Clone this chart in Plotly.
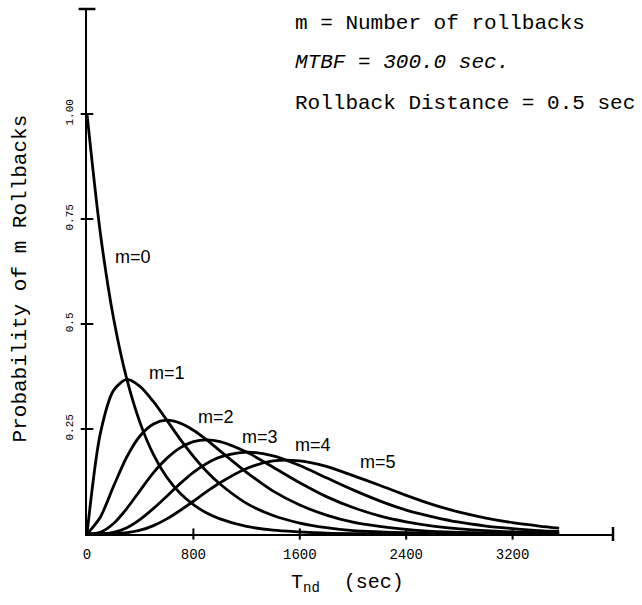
import plotly.graph_objects as go

# ---- data ----
T_SEC = [0, 100, 200, 300, 400, 500, 600, 700, 800, 900, 1000, 1200, 1400, 1600,
         1800, 2000, 2200, 2400, 2600, 2800, 3000, 3200, 3400, 3550]
P_M0 = [1.0, .717, .513, .368, .264, .189, .135, .097, .070, .050, .036, .018, .009, .005,
        .002, .001, .001, 0, 0, 0, 0, 0, 0, 0]
P_M1 = [0, .239, .342, .368, .351, .315, .271, .226, .185, .149, .119, .073, .044, .026,
        .015, .008, .005, .003, .002, .001, 0, 0, 0, 0]
P_M2 = [0, .040, .114, .184, .234, .262, .271, .264, .247, .224, .198, .147, .102, .069,
        .045, .028, .018, .011, .006, .004, .002, .001, .001, 0]
P_M3 = [0, .004, .025, .061, .104, .146, .180, .205, .220, .224, .220, .195, .159, .122,
        .089, .063, .043, .029, .019, .012, .008, .005, .003, .002]
P_M4 = [0, 0, .004, .015, .035, .061, .090, .120, .147, .168, .183, .195, .186, .163,
        .134, .105, .079, .057, .041, .028, .019, .013, .008, .006]
P_M5 = [0, 0, .001, .003, .009, .020, .036, .056, .078, .101, .122, .156, .174, .174,
        .161, .139, .116, .092, .070, .052, .038, .027, .019, .014]
SERIES = [P_M0, P_M1, P_M2, P_M3, P_M4, P_M5]

CURVE_LABELS = ["m=0", "m=1", "m=2", "m=3", "m=4", "m=5"]
LABEL_X = [346, 601, 970, 1300, 1700, 2190]
LABEL_Y = [0.66, 0.383, 0.279, 0.231, 0.212, 0.171]

X_TICKS = [0, 800, 1600, 2400, 3200]
X_TICK_TEXT = ["0", "800", "1600", "2400", "3200"]
Y_TICKS = [0.25, 0.5, 0.75, 1.0]
Y_TICK_TEXT = ["0.25", "0.5", "0.75", "1.00"]
X_END = 3955
Y_END = 1.25

NOTE_LINES = ["m = Number of rollbacks", "<i>MTBF = 300.0 sec.</i>",
              "Rollback Distance = 0.5 sec"]

MONO = "Liberation Mono"

fig = go.Figure()
for ys in SERIES:
    fig.add_trace(go.Scatter(x=T_SEC, y=ys, mode="lines",
                             line=dict(color="black", width=2.8, shape="spline", smoothing=0.8),
                             showlegend=False, hoverinfo="skip"))

# tick marks crossing the axes
fig.add_trace(go.Scatter(x=[0] * len(Y_TICKS), y=Y_TICKS, mode="markers",
                         marker=dict(symbol="line-ew", size=9, line=dict(color="black", width=2)),
                         showlegend=False, cliponaxis=False, hoverinfo="skip"))
fig.add_trace(go.Scatter(x=[0], y=[Y_END], mode="markers",
                         marker=dict(symbol="line-ew", size=12, line=dict(color="black", width=2.5)),
                         showlegend=False, cliponaxis=False, hoverinfo="skip"))
fig.add_trace(go.Scatter(x=X_TICKS[1:], y=[0] * (len(X_TICKS) - 1), mode="markers",
                         marker=dict(symbol="line-ns", size=8, line=dict(color="black", width=2)),
                         showlegend=False, cliponaxis=False, hoverinfo="skip"))
fig.add_trace(go.Scatter(x=[X_END], y=[0], mode="markers",
                         marker=dict(symbol="line-ns", size=10, line=dict(color="black", width=2.5)),
                         showlegend=False, cliponaxis=False, hoverinfo="skip"))

for txt, lx, ly in zip(CURVE_LABELS, LABEL_X, LABEL_Y):
    fig.add_annotation(x=lx, y=ly, text=txt, showarrow=False,
                       font=dict(family="Liberation Sans", size=18, color="black"))

for i, line in enumerate(NOTE_LINES):
    fig.add_annotation(xref="paper", yref="paper", x=0.392, y=[0.973, 0.899, 0.820][i],
                       xanchor="left", yanchor="middle", text=line, showarrow=False,
                       font=dict(family=MONO, size=21, color="black"))

fig.add_annotation(xref="paper", yref="paper", x=-0.152, y=0.486, textangle=-90,
                   text="Probability of m Rollbacks", showarrow=False,
                   font=dict(family=MONO, size=21, color="black"))
fig.add_annotation(xref="paper", yref="paper", x=0.495, y=-0.122,
                   text="T<sub>nd</sub>&nbsp; (sec)", showarrow=False,
                   font=dict(family=MONO, size=20, color="black"))

fig.update_layout(
    width=642, height=605,
    margin=dict(l=87, r=29, t=9, b=71),
    paper_bgcolor="white", plot_bgcolor="white",
    xaxis=dict(range=[0, X_END], showline=True, linecolor="black", linewidth=2,
               showgrid=False, zeroline=False, ticks="", tickvals=X_TICKS,
               ticktext=X_TICK_TEXT, ticklabelstandoff=6,
               tickfont=dict(family=MONO, size=14, color="black")),
    yaxis=dict(range=[0, Y_END], showline=True, linecolor="black", linewidth=2,
               showgrid=False, zeroline=False, ticks="", tickvals=Y_TICKS,
               ticktext=Y_TICK_TEXT, tickangle=-90, ticklabelstandoff=8,
               tickfont=dict(family=MONO, size=11, color="black")),
)

fig.write_html("out.html")
